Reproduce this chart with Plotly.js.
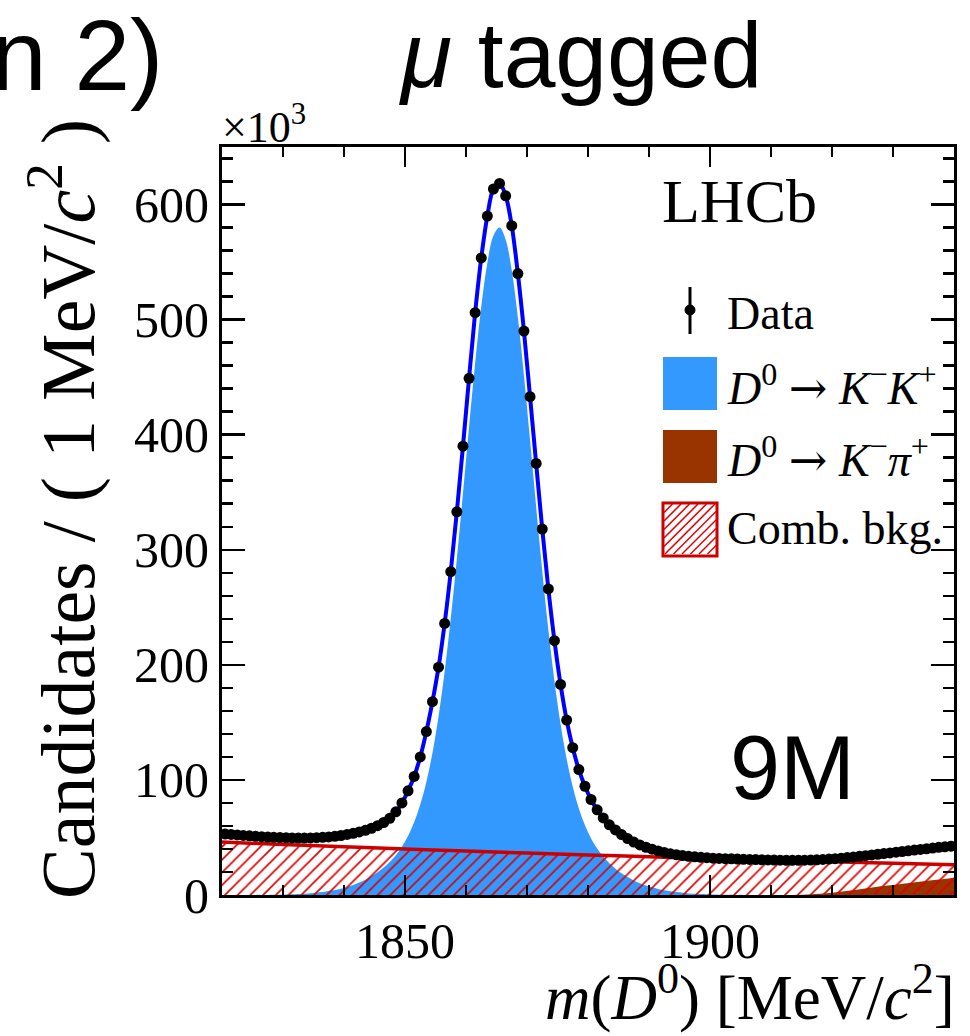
<!DOCTYPE html>
<html>
<head>
<meta charset="utf-8">
<script src="https://cdn.plot.ly/plotly-3.0.1.min.js"></script>
<style>html,body{margin:0;padding:0;background:#fff;}#plot{width:970px;height:1036px;}</style>
</head>
<body>
<div id="plot"></div>
<script>
// Binned data: 1 MeV bins, first bin centre 1820.5
var massStart = 1820.5;
var massStep = 1;
var dataCounts = [
 53.0,52.6,52.2,51.8,51.4,51.0,50.7,50.4,50.1,49.9,
 49.7,49.6,49.5,49.5,49.6,49.8,50.1,50.5,51.0,51.7,
 52.6,53.6,54.8,56.2,58.0,60.2,63.0,66.6,72.3,80.0,
 90.5,103.0,120.0,142.0,168.0,198.0,236.0,281.0,333.0,390.0,
 449.0,506.0,553.6,590.0,613.5,618.3,607.6,581.6,540.0,490.0,
 433.0,375.0,318.0,266.0,221.0,183.0,152.0,128.0,109.0,94.5,
 83.0,74.0,67.0,61.0,56.5,52.5,49.0,46.0,43.5,41.5,
 39.8,38.3,37.0,35.9,35.0,34.3,33.6,33.2,32.7,32.4,
 32.0,31.8,31.6,31.4,31.2,31.0,30.9,30.8,30.6,30.5,
 30.4,30.3,30.2,30.2,30.2,30.3,30.4,30.6,30.9,31.2,
 31.6,32.0,32.5,33.0,33.6,34.2,34.8,35.4,36.0,36.6,
 37.2,37.8,38.4,39.0,39.6,40.2,40.8,41.4,41.9,42.4
];
// D0 -> K-K+ signal component (same bins)
var signalKK = [
 0,0,0,0,0,0.1,0.1,0.1,0.2,0.3,
 0.5,0.6,0.8,1.1,1.5,2.0,2.6,3.4,4.4,5.5,
 7.0,8.7,10.8,13.2,16.2,19.7,23.8,28.7,34.6,42.0,
 51.3,63.2,78.6,98.3,123.5,155.4,194.3,240.2,292.3,348.8,
 406.7,462.3,511.2,549.3,572.9,580.0,569.5,542.7,502.1,451.5,
 395.1,337.3,281.5,230.4,185.9,148.5,118.1,94.0,75.1,60.6,
 49.2,40.4,33.4,27.6,22.9,18.9,15.6,12.7,10.3,8.3,
 6.7,5.3,4.2,3.2,2.5,1.9,1.4,1.1,0.8,0.6,
 0.4,0.3,0.2,0.2,0.1,0.1,0,0,0,0,
 0,0,0,0,0,0,0,0,0,0,
 0,0,0,0,0,0,0,0,0,0,
 0,0,0,0,0,0,0,0,0,0
];
// Combinatorial background
var combMass = [1820,1830,1840,1850,1860,1870,1880,1890,1900,1910,1920,1930,1940];
var combVals = [46.0,43.9,41.9,40.0,38.2,36.5,34.8,33.2,31.7,30.3,28.9,27.6,26.3];
// D0 -> K-pi+ misidentified background
var kpiMass = [1912,1916,1920,1924,1928,1932,1936,1940];
var kpiVals = [0,0.5,2,4.5,7.5,10,12.5,15];

var xTickVals = [1850,1900];
var yTickVals = [0,100,200,300,400,500,600];

// plot area in pixels
var L=222, R=954, T=147, B=895, W=970, H=1036;
function px(x){return (x-L)/(R-L);}
function py(y){return (B-y)/(B-T);}

var serif = 'Liberation Serif';
var sans = 'Liberation Sans';
var arrow = '<span style="font-family:\'DejaVu Serif\'">→</span>';

var traces = [
 {type:'scatter', mode:'lines', x0:massStart, dx:massStep, y:signalKK, fill:'tozeroy',
  fillcolor:'#3399ff', line:{width:0, color:'#3399ff', shape:'spline'}, hoverinfo:'skip', showlegend:false},
 {type:'scatter', mode:'lines', x:kpiMass, y:kpiVals, fill:'tozeroy',
  fillcolor:'#993300', line:{width:0, color:'#993300', shape:'spline'}, showlegend:false},
 {type:'scatter', mode:'lines', x:combMass, y:combVals, fill:'tozeroy',
  fillcolor:'rgba(0,0,0,0)',
  fillpattern:{shape:'/', fgcolor:'#dd0000', bgcolor:'rgba(0,0,0,0)', size:9, solidity:0.18},
  line:{width:3.5, color:'#cc0000', shape:'spline'}, showlegend:false},
 {type:'scatter', mode:'lines', x0:massStart, dx:massStep, y:dataCounts,
  line:{width:4, color:'#0000ff', shape:'spline'}, showlegend:false},
 {type:'scatter', mode:'markers', x0:massStart, dx:massStep, y:dataCounts,
  marker:{size:11, color:'#000'}, showlegend:false}
];

var shapes = [];
// legend: Data
shapes.push({type:'line', xref:'paper', yref:'paper', x0:px(690), x1:px(690), y0:py(287), y1:py(334), line:{color:'#000', width:3}});
shapes.push({type:'circle', xref:'paper', yref:'paper', x0:px(685), x1:px(695), y0:py(315), y1:py(305), fillcolor:'#000', line:{color:'#000', width:1}});
// legend boxes
shapes.push({type:'rect', xref:'paper', yref:'paper', x0:px(663), x1:px(717), y0:py(410), y1:py(357), fillcolor:'#3399ff', line:{width:0}});
shapes.push({type:'rect', xref:'paper', yref:'paper', x0:px(663), x1:px(717), y0:py(483), y1:py(430), fillcolor:'#993300', line:{width:0}});
var hx0=664, hx1=716, hy0=504, hy1=554, hs=8.5;
for (var a=hx0-(hy1-hy0); a<hx1; a+=hs){
  var h=hy1-hy0;
  var t0=Math.max(0,hx0-a), t1=Math.min(h,hx1-a);
  if (t1>t0) shapes.push({type:'line', xref:'paper', yref:'paper',
     x0:px(a+t0), y0:py(hy1-t0), x1:px(a+t1), y1:py(hy1-t1), line:{color:'#dd0000', width:1.5}});
}
shapes.push({type:'rect', xref:'paper', yref:'paper', x0:px(663), x1:px(717), y0:py(556), y1:py(503), fillcolor:'rgba(0,0,0,0)', line:{color:'#cc0000', width:3}});

var ann = [
 {text:'LHCb', x:px(660), y:py(201), xanchor:'left', yanchor:'middle', font:{family:serif, size:62, color:'#000'}},
 {text:'Data', x:px(725), y:py(313), xanchor:'left', yanchor:'middle', font:{family:serif, size:46, color:'#000'}},
 {text:'<i>D</i><sup>0</sup> '+arrow+' <i>K</i><sup>−</sup><i>K</i><sup>+</sup>', x:px(725), y:py(385), xanchor:'left', yanchor:'middle', font:{family:serif, size:46, color:'#000'}},
 {text:'<i>D</i><sup>0</sup> '+arrow+' <i>K</i><sup>−</sup><i>π</i><sup>+</sup>', x:px(725), y:py(457), xanchor:'left', yanchor:'middle', font:{family:serif, size:46, color:'#000'}},
 {text:'Comb. bkg.', x:px(725), y:py(528), xanchor:'left', yanchor:'middle', font:{family:serif, size:46, color:'#000'}},
 {text:'9M', x:px(728), y:py(768), xanchor:'left', yanchor:'middle', font:{family:sans, size:90, color:'#000'}},
 {text:'<i>μ</i> tagged', x:px(580), y:py(55), xanchor:'center', yanchor:'middle', font:{family:sans, size:93, color:'#000'}},
 {text:'n 2)', x:px(165), y:py(55), xanchor:'right', yanchor:'middle', font:{family:sans, size:100, color:'#000'}},
 {text:'×10<sup>3</sup>', x:px(220), y:py(154), xanchor:'left', yanchor:'bottom', font:{family:serif, size:44, color:'#000'}},
 {text:'<i>m</i>(<i>D</i><sup>0</sup>) [MeV/<i>c</i><sup>2</sup>]', x:px(957), y:py(1035), xanchor:'right', yanchor:'bottom', font:{family:serif, size:63, color:'#000'}},
 {text:'Candidates / ( 1 MeV/<i>c</i><sup>2</sup> )', x:px(63), y:py(117), xanchor:'center', yanchor:'top', textangle:-90, font:{family:serif, size:76, color:'#000'}}
];
ann.forEach(function(a){a.xref='paper'; a.yref='paper'; a.showarrow=false;});

var layout = {
 width:W, height:H,
 margin:{l:L, r:W-R, t:T, b:H-B, pad:0},
 paper_bgcolor:'#fff', plot_bgcolor:'#fff',
 showlegend:false,
 xaxis:{range:[1820,1940], tickvals:xTickVals, ticks:'inside', ticklen:20, tickwidth:2.5, tickcolor:'#000',
   minor:{dtick:10, tick0:1820, ticks:'inside', ticklen:10, tickwidth:2.5, tickcolor:'#000'},
   showline:true, linewidth:3, linecolor:'#000', mirror:'ticks', showgrid:false, zeroline:false,
   tickfont:{family:serif, size:50, color:'#000'}},
 yaxis:{range:[0,650], tickvals:yTickVals, ticks:'inside', ticklen:23, tickwidth:2.5, tickcolor:'#000',
   minor:{dtick:20, tick0:0, ticks:'inside', ticklen:11, tickwidth:2.5, tickcolor:'#000'},
   showline:true, linewidth:3, linecolor:'#000', mirror:'ticks', showgrid:false, zeroline:false,
   tickfont:{family:serif, size:50, color:'#000'}},
 shapes:shapes,
 annotations:ann
};

Plotly.newPlot('plot', traces, layout, {staticPlot:true, displayModeBar:false});
</script>
</body>
</html>
